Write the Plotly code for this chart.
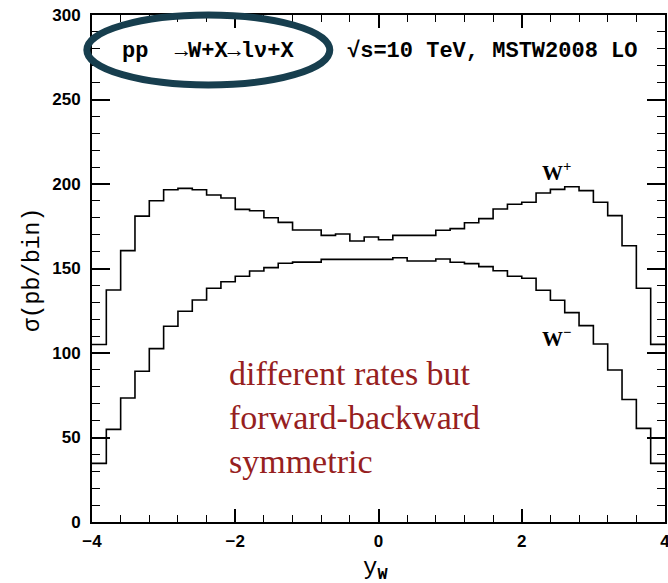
import numpy as np
import plotly.graph_objects as go

# W rapidity distribution, 40 bins of width 0.2 from -4 to 4
y_lo, y_hi, n_bins = -4.0, 4.0, 40

w_plus = [105.0, 137.3, 160.6, 181.0, 190.1, 196.6, 197.4, 196.6, 193.5, 191.7,
          185.0, 184.2, 180.0, 177.3, 172.8, 172.8, 169.6, 170.4, 166.3, 168.6,
          167.0, 169.6, 169.6, 169.6, 172.6, 173.6, 177.1, 179.5, 185.2, 188.0,
          189.2, 194.7, 196.8, 198.4, 196.1, 189.2, 181.3, 163.5, 138.3, 105.1]

w_minus = [34.7, 54.8, 73.4, 89.2, 102.6, 115.8, 124.7, 131.4, 138.3, 142.2,
           145.4, 148.5, 150.5, 153.1, 153.8, 153.8, 155.4, 155.4, 155.4, 155.4,
           155.4, 156.4, 154.4, 154.4, 155.6, 153.7, 152.9, 151.1, 148.7, 145.4,
           144.2, 137.1, 131.2, 123.9, 116.2, 105.3, 89.9, 72.5, 55.4, 34.7]

x_ticks = [-4, -2, 0, 2, 4]
x_tick_text = ["\u22124", "\u22122", "0", "2", "4"]
y_ticks = [0, 50, 100, 150, 200, 250, 300]

edges = np.linspace(y_lo, y_hi, n_bins + 1)


def step_trace(vals):
    # 'hv' steps: each bin value held from its left edge to the next edge
    xs = list(edges)
    ys = list(vals) + [vals[-1]]
    return go.Scatter(x=xs, y=ys, mode="lines", line=dict(shape="hv", color="black", width=1.6),
                      showlegend=False, hoverinfo="skip")


fig = go.Figure()
fig.add_trace(step_trace(w_plus))
fig.add_trace(step_trace(w_minus))

tick_font = dict(family="Liberation Sans", size=17, color="black", weight="bold")
mono = "Liberation Mono"

fig.update_layout(
    width=668, height=583,
    margin=dict(l=92, r=3, t=15, b=61, autoexpand=False),
    paper_bgcolor="white", plot_bgcolor="white",
    xaxis=dict(range=[y_lo, y_hi], tickvals=x_ticks, ticktext=x_tick_text,
               ticks="inside", ticklen=13, tickwidth=1.5, tickcolor="black",
               showline=True, linecolor="black", linewidth=1.8, mirror="allticks",
               showgrid=False, zeroline=False, tickfont=tick_font, ticklabelstandoff=3,
               automargin=False, ticklabeloverflow="allow",
               minor=dict(dtick=0.4, ticks="inside", ticklen=7, tickwidth=1.2, tickcolor="black",
                          showgrid=False)),
    yaxis=dict(range=[0, 300], tickvals=y_ticks,
               ticks="inside", ticklen=18, tickwidth=1.5, tickcolor="black",
               showline=True, linecolor="black", linewidth=1.8, mirror="allticks",
               showgrid=False, zeroline=False, tickfont=tick_font, ticklabelstandoff=6,
               automargin=False, ticklabeloverflow="allow",
               minor=dict(dtick=10, ticks="inside", ticklen=8, tickwidth=1.2, tickcolor="black",
                          showgrid=False)),
)

# process ellipse around the reaction
fig.add_shape(type="circle", xref="paper", yref="paper",
              x0=-0.009, x1=0.415, y0=0.862, y1=1.0,
              line=dict(color="#173E4E", width=7))


def note(x, y, text, font, **kw):
    fig.add_annotation(xref="paper", yref="paper", x=x, y=y, text=text, font=font,
                       showarrow=False, xanchor=kw.pop("xanchor", "center"),
                       yanchor=kw.pop("yanchor", "middle"), **kw)


note(0.2033, 0.928, "pp  \u2192W+X\u2192l\u03bd+X",
     dict(family=mono, size=22, color="black", weight="bold"))
note(0.4415, 0.928, "\u221as=10 TeV, MSTW2008 LO",
     dict(family=mono, size=22, color="black", weight="bold"), xanchor="left")

note(0.8115, 0.692, "<b>W<sup>+</sup></b>", dict(family="Liberation Serif", size=21, color="black"))
note(0.8115, 0.363, "<b>W<sup>\u2212</sup></b>", dict(family="Liberation Serif", size=21, color="black"))

note(0.2356, 0.207, "different rates but<br>forward-backward<br>symmetric",
     dict(family="Liberation Serif", size=34, color="#962020"), xanchor="left", align="left")

# axis titles
note(-0.103, 0.497, "\u03c3(pb/bin)", dict(family=mono, size=23, color="black"), textangle=-90)
note(0.494, -0.092, "y<sub><b>W</b></sub>", dict(family=mono, size=24, color="black"))

fig.write_html("out.html")
